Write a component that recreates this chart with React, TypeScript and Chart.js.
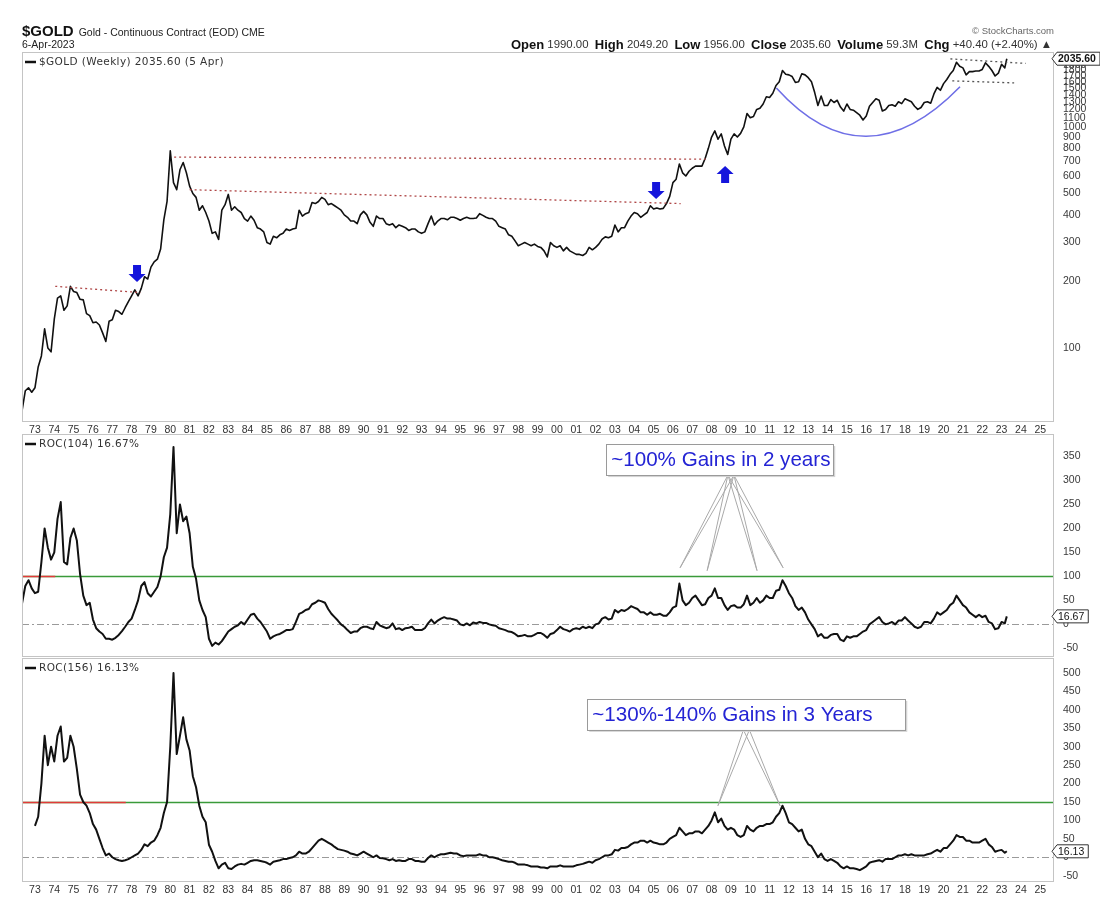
import { useEffect, useRef } from "react";
import { Chart, registerables } from "chart.js";

Chart.register(...registerables);

// ---------------- data ----------------
const T0 = 1972 + 2 / 6; // first sample (May 1972)
const STEP = 1 / 6; // two-month sampling
const LAST_T = 2023.27; // 5 Apr 2023

const YEAR_TICKS = [
  1973, 1974, 1975, 1976, 1977, 1978, 1979, 1980, 1981, 1982, 1983, 1984, 1985, 1986,
  1987, 1988, 1989, 1990, 1991, 1992, 1993, 1994, 1995, 1996, 1997, 1998, 1999, 2000,
  2001, 2002, 2003, 2004, 2005, 2006, 2007, 2008, 2009, 2010, 2011, 2012, 2013, 2014,
  2015, 2016, 2017, 2018, 2019, 2020, 2021, 2022, 2023, 2024, 2025,
];
const PRICE_TICKS = [
  100, 200, 300, 400, 500, 600, 700, 800, 900, 1000, 1100, 1200, 1300, 1400, 1500, 1600,
  1700, 1800, 1900, 2000,
];
const ROC104_TICKS = [-50, 0, 50, 100, 150, 200, 250, 300, 350];
const ROC156_TICKS = [-50, 0, 50, 100, 150, 200, 250, 300, 350, 400, 450, 500];

// weekly close of $GOLD, sampled every two months
const PRICE: number[] = [
  52, 64, 66, 63, // 1972
  66, 82, 92, 122, 100, 96, // 1973
  135, 168, 172, 148, 155, 190, // 1974
  180, 178, 166, 165, 143, 140, // 1975
  130, 131, 127, 117, 107, 132, // 1976
  134, 148, 146, 142, 152, 162, // 1977
  172, 183, 172, 186, 210, 205, // 1978
  232, 245, 252, 280, 380, 460, // 1979
  780, 560, 520, 640, 690, 620, // 1980
  540, 500, 480, 420, 440, 410, // 1981
  375, 330, 335, 310, 420, 445, // 1982
  495, 420, 435, 420, 410, 385, // 1983
  375, 395, 378, 350, 345, 335, // 1984
  300, 295, 320, 315, 325, 330, // 1985
  345, 340, 345, 348, 420, 395, // 1986
  405, 410, 455, 450, 460, 480, // 1987
  470, 445, 450, 440, 430, 420, // 1988
  400, 390, 375, 375, 365, 400, // 1989
  415, 400, 370, 355, 395, 385, // 1990
  385, 365, 360, 365, 350, 360, // 1991
  355, 350, 340, 345, 345, 335, // 1992
  330, 335, 365, 395, 360, 375, // 1993
  385, 385, 380, 390, 390, 385, // 1994
  378, 385, 390, 385, 385, 387, // 1995
  405, 398, 390, 385, 385, 375, // 1996
  355, 350, 345, 325, 320, 305, // 1997
  290, 295, 300, 295, 290, 295, // 1998
  288, 285, 275, 258, 300, 290, // 1999
  285, 290, 275, 285, 275, 270, // 2000
  265, 265, 262, 268, 285, 278, // 2001
  285, 295, 310, 318, 315, 320, // 2002
  360, 335, 350, 350, 375, 395, // 2003
  410, 405, 390, 400, 410, 440, // 2004
  425, 430, 425, 428, 450, 485, // 2005
  560, 580, 680, 620, 600, 630, // 2006
  650, 665, 665, 665, 720, 800, // 2007
  900, 960, 880, 930, 820, 750, // 2008
  880, 930, 900, 935, 1000, 1150, // 2009
  1100, 1115, 1200, 1215, 1270, 1370, // 2010
  1360, 1420, 1540, 1600, 1800, 1730, // 2011
  1720, 1690, 1590, 1600, 1740, 1720, // 2012
  1670, 1600, 1430, 1250, 1380, 1250, // 2013
  1250, 1330, 1290, 1320, 1230, 1180, // 2014
  1270, 1200, 1190, 1160, 1130, 1075, // 2015
  1120, 1240, 1290, 1340, 1320, 1180, // 2016
  1200, 1250, 1260, 1240, 1300, 1275, // 2017
  1340, 1320, 1300, 1240, 1200, 1225, // 2018
  1290, 1300, 1280, 1410, 1510, 1465, // 2019
  1570, 1640, 1730, 1800, 1960, 1880, // 2020
  1850, 1720, 1780, 1780, 1790, 1790, // 2021
  1820, 1950, 1880, 1800, 1700, 1750, // 2022
  1920, 1850, // 2023
];
const PRICE_LAST = 2035.6;

// ROC(104) in %
const ROC104: number[] = [
  44, 80, 92, 75, // 1972
  65, 68, 130, 200, 160, 135, // 1973
  150, 220, 255, 130, 125, 180, // 1974
  200, 175, 105, 60, 40, 45, // 1975
  10, -8, -15, -20, -30, -30, // 1976
  -32, -28, -22, -14, -5, 5, // 1977
  12, 30, 50, 80, 88, 65, // 1978
  58, 68, 78, 100, 140, 160, // 1979
  230, 370, 190, 250, 215, 225, // 1980
  190, 120, 95, 50, 30, 15, // 1981
  -30, -45, -38, -42, -35, -25, // 1982
  -15, -10, -5, -2, 5, 0, // 1983
  10, 20, 22, 12, 5, -5, // 1984
  -15, -30, -25, -22, -20, -16, // 1985
  -12, -12, -10, 5, 22, 25, // 1986
  30, 32, 42, 45, 50, 48, // 1987
  45, 32, 22, 15, 8, 0, // 1988
  -5, -12, -18, -15, -15, -8, // 1989
  -5, -5, -8, -10, 5, -2, // 1990
  -5, -8, -6, 2, -10, -8, // 1991
  -12, -8, -7, -5, -12, -12, // 1992
  -12, -8, 2, 10, 2, 8, // 1993
  12, 15, 12, 12, 10, 8, // 1994
  0, -2, 2, -2, 4, 2, // 1995
  5, 3, 3, 0, -2, -3, // 1996
  -8, -10, -12, -15, -16, -20, // 1997
  -25, -24, -22, -25, -25, -22, // 1998
  -18, -18, -22, -28, -20, -18, // 1999
  -12, -5, -10, -12, -15, -10, // 2000
  -8, -10, -5, -8, -5, -8, // 2001
  0, 2, 12, 15, 10, 12, // 2002
  30, 25, 30, 28, 32, 38, // 2003
  35, 32, 25, 25, 20, 25, // 2004
  20, 20, 22, 18, 18, 25, // 2005
  35, 38, 85, 50, 40, 45, // 2006
  55, 60, 50, 40, 42, 55, // 2007
  60, 75, 55, 55, 40, 30, // 2008
  38, 40, 35, 35, 42, 60, // 2009
  40, 45, 55, 45, 50, 60, // 2010
  55, 55, 70, 72, 92, 80, // 2011
  65, 55, 38, 30, 35, 25, // 2012
  10, 0, -10, -25, -20, -28, // 2013
  -28, -22, -20, -20, -32, -35, // 2014
  -25, -28, -25, -25, -20, -15, // 2015
  -12, 0, 5, 10, 15, 5, // 2016
  0, 2, 5, 0, 8, 8, // 2017
  15, 8, 2, -5, -8, -5, // 2018
  5, 5, 2, 12, 25, 20, // 2019
  25, 30, 40, 45, 60, 50, // 2020
  40, 35, 25, 20, 15, 20, // 2021
  15, 18, 5, 2, -10, -8, // 2022
  5, 2, // 2023
];
const ROC104_LAST = 16.67;

// ROC(156) in %
const ROC156: (number | null)[] = [
  null, null, null, null, // 1972
  85, 110, 200, 330, 250, 300, // 1973
  260, 330, 355, 260, 270, 330, // 1974
  300, 240, 170, 150, 140, 120, // 1975
  90, 75, 50, 25, 5, 10, // 1976
  0, -5, -8, -10, -8, -5, // 1977
  0, 5, 10, 20, 35, 30, // 1978
  40, 45, 60, 80, 120, 150, // 1979
  300, 500, 280, 330, 380, 320, // 1980
  290, 220, 190, 140, 110, 95, // 1981
  34, 15, -10, -30, -20, -15, // 1982
  -30, -32, -25, -20, -18, -20, // 1983
  -15, -10, -8, -8, -10, -12, // 1984
  -15, -20, -12, -10, -8, -5, // 1985
  -5, -2, 0, 5, 15, 10, // 1986
  10, 15, 25, 35, 45, 50, // 1987
  45, 40, 35, 28, 22, 20, // 1988
  18, 15, 10, 8, 5, 10, // 1989
  15, 10, 5, 0, 5, -2, // 1990
  -3, -5, -8, -5, -10, -8, // 1991
  -10, -10, -5, -5, -10, -10, // 1992
  -12, -12, -2, 5, 0, 5, // 1993
  8, 8, 10, 12, 10, 10, // 1994
  5, 3, 5, 5, 5, 5, // 1995
  8, 5, 5, 0, 0, -2, // 1996
  -5, -8, -10, -12, -12, -15, // 1997
  -20, -20, -20, -22, -25, -25, // 1998
  -25, -28, -28, -30, -25, -25, // 1999
  -25, -22, -25, -25, -25, -25, // 2000
  -22, -20, -18, -15, -12, -15, // 2001
  -8, -5, 0, 5, 5, 8, // 2002
  20, 18, 25, 25, 28, 35, // 2003
  40, 40, 45, 45, 40, 45, // 2004
  40, 38, 35, 35, 40, 50, // 2005
  55, 60, 80, 70, 60, 65, // 2006
  65, 70, 70, 65, 75, 85, // 2007
  100, 122, 95, 105, 85, 75, // 2008
  80, 75, 60, 55, 60, 85, // 2009
  75, 70, 80, 85, 85, 90, // 2010
  90, 95, 110, 120, 140, 120, // 2011
  95, 90, 80, 70, 75, 50, // 2012
  35, 30, 15, 0, 10, -5, // 2013
  -10, -5, -10, -15, -25, -30, // 2014
  -25, -30, -30, -32, -35, -30, // 2015
  -25, -15, -12, -10, -8, -12, // 2016
  -5, -5, -5, 0, 5, 5, // 2017
  8, 5, 8, 5, 5, 5, // 2018
  5, 8, 10, 15, 20, 15, // 2019
  25, 25, 35, 45, 60, 55, // 2020
  55, 45, 45, 40, 40, 40, // 2021
  45, 50, 35, 28, 15, 18, // 2022
  20, 12, // 2023
];
const ROC156_LAST = 16.13;

// annotations (data coordinates)
const RED_DOTTED = [
  [1974.05, 190, 1978.45, 178],
  [1980.2, 730, 2007.7, 715],
  [1981.0, 520, 2006.4, 450],
];
const BLACK_DOTTED = [
  [2020.35, 2032, 2024.25, 1938],
  [2020.45, 1616, 2023.65, 1582],
];
const ARROWS = [
  { t: 1978.28, v: 199, dir: 1 },
  { t: 2005.13, v: 472, dir: 1 },
  { t: 2008.7, v: 666, dir: -1 },
];
const ARC = { start: [2011.35, 1500], ctrl: [2015.9, 545], end: [2020.85, 1520] };

// ---------------- layout / style ----------------
const W = 1100;
const H = 920;
const PLOT_L = 22;
const AXIS_W = 47;
const X_MIN = 1972.33;
const X_MAX = 2025.66;
const FONT_SANS = '"Liberation Sans", Arial, sans-serif';
const FONT_VERD = '"DejaVu Sans", Verdana, sans-serif';
const BORDER = "#c4c4c4";

type Pt = { x: number; y: number | null };
const toPoints = (vals: (number | null)[], last: number): Pt[] =>
  vals.map((v, i) => ({ x: T0 + i * STEP, y: v })).concat([{ x: LAST_T, y: last }]);

function xAxis(show: boolean, h: number) {
  return {
    type: "linear",
    min: X_MIN,
    max: X_MAX,
    display: show,
    grid: { display: false, drawTicks: false },
    border: { display: false },
    afterBuildTicks: (s: any) => {
      s.ticks = YEAR_TICKS.map((v) => ({ value: v }));
    },
    afterFit: (s: any) => {
      s.height = h;
    },
    ticks: {
      autoSkip: false,
      maxRotation: 0,
      minRotation: 0,
      padding: 3,
      color: "#333",
      font: { family: FONT_SANS, size: 10.5 },
      callback: (v: any) => String(Number(v) % 100).padStart(2, "0"),
    },
  };
}

function yAxis(type: string, min: number, max: number, ticks: number[]) {
  return {
    type,
    position: "right",
    min,
    max,
    grid: { display: false, drawTicks: false },
    border: { display: false },
    afterBuildTicks: (s: any) => {
      s.ticks = ticks.map((v) => ({ value: v }));
    },
    afterFit: (s: any) => {
      s.width = AXIS_W;
    },
    ticks: {
      autoSkip: false,
      padding: 10,
      color: "#3a3a3a",
      font: { family: FONT_SANS, size: 10.5 },
      callback: (v: any) => String(v),
    },
  };
}

function drawBorder(ctx: CanvasRenderingContext2D, a: any) {
  ctx.save();
  ctx.strokeStyle = BORDER;
  ctx.lineWidth = 1;
  ctx.setLineDash([]);
  ctx.strokeRect(Math.round(a.left) + 0.5, Math.round(a.top) + 0.5, Math.round(a.right - a.left), Math.round(a.bottom - a.top));
  ctx.restore();
}

function drawTag(ctx: CanvasRenderingContext2D, x0: number, y: number, text: string, bold: boolean) {
  ctx.save();
  ctx.font = `${bold ? "bold " : ""}10.5px ${FONT_SANS}`;
  const tw = ctx.measureText(text).width;
  const h = 13;
  ctx.beginPath();
  ctx.moveTo(x0, y);
  ctx.lineTo(x0 + 5, y - h / 2);
  ctx.lineTo(x0 + tw + 10, y - h / 2);
  ctx.lineTo(x0 + tw + 10, y + h / 2);
  ctx.lineTo(x0 + 5, y + h / 2);
  ctx.closePath();
  ctx.fillStyle = "#fff";
  ctx.fill();
  ctx.strokeStyle = "#333";
  ctx.lineWidth = 1;
  ctx.stroke();
  ctx.fillStyle = "#111";
  ctx.textBaseline = "middle";
  ctx.textAlign = "left";
  ctx.fillText(text, x0 + 6, y + 0.5);
  ctx.restore();
}

function drawLegend(ctx: CanvasRenderingContext2D, x: number, y: number, text: string) {
  ctx.save();
  ctx.strokeStyle = "#111";
  ctx.lineWidth = 2.5;
  ctx.beginPath();
  ctx.moveTo(x, y);
  ctx.lineTo(x + 11, y);
  ctx.stroke();
  ctx.font = `10.5px ${FONT_VERD}`;
  (ctx as any).letterSpacing = "0.4px";
  ctx.fillStyle = "#333";
  ctx.textBaseline = "middle";
  ctx.fillText(text, x + 14, y + 0.5);
  ctx.restore();
}

function drawArrow(ctx: CanvasRenderingContext2D, cx: number, tipY: number, dir: number) {
  const bw = 4;
  const hw = 8.5;
  const hh = 8;
  const bh = 9;
  ctx.beginPath();
  ctx.moveTo(cx, tipY);
  ctx.lineTo(cx - hw, tipY - dir * hh);
  ctx.lineTo(cx - bw, tipY - dir * hh);
  ctx.lineTo(cx - bw, tipY - dir * (hh + bh));
  ctx.lineTo(cx + bw, tipY - dir * (hh + bh));
  ctx.lineTo(cx + bw, tipY - dir * hh);
  ctx.lineTo(cx + hw, tipY - dir * hh);
  ctx.closePath();
  ctx.fill();
}

const mainPlugin = {
  id: "mainDecor",
  afterDraw(chart: any) {
    const { ctx, chartArea: a, scales } = chart;
    const px = (t: number) => scales.x.getPixelForValue(t);
    const py = (v: number) => scales.y.getPixelForValue(v);
    ctx.save();
    drawBorder(ctx, a);

    // dotted trend lines
    ctx.lineWidth = 1.3;
    ctx.setLineDash([2, 3]);
    ctx.strokeStyle = "#b04848";
    for (const [t1, v1, t2, v2] of RED_DOTTED) {
      ctx.beginPath();
      ctx.moveTo(px(t1), py(v1));
      ctx.lineTo(px(t2), py(v2));
      ctx.stroke();
    }
    ctx.strokeStyle = "#555";
    for (const [t1, v1, t2, v2] of BLACK_DOTTED) {
      ctx.beginPath();
      ctx.moveTo(px(t1), py(v1));
      ctx.lineTo(px(t2), py(v2));
      ctx.stroke();
    }
    ctx.setLineDash([]);

    // cup arc
    ctx.strokeStyle = "#6f6fe6";
    ctx.lineWidth = 1.6;
    ctx.beginPath();
    ctx.moveTo(px(ARC.start[0]), py(ARC.start[1]));
    ctx.quadraticCurveTo(px(ARC.ctrl[0]), py(ARC.ctrl[1]), px(ARC.end[0]), py(ARC.end[1]));
    ctx.stroke();

    // arrows
    ctx.fillStyle = "#1515dc";
    for (const ar of ARROWS) drawArrow(ctx, px(ar.t), py(ar.v), ar.dir);

    // legend
    drawLegend(ctx, 25, 62, "$GOLD (Weekly) 2035.60 (5 Apr)");

    // header left
    ctx.fillStyle = "#111";
    ctx.textBaseline = "middle";
    ctx.textAlign = "left";
    ctx.font = `bold 15px ${FONT_SANS}`;
    ctx.fillText("$GOLD", 22, 32);
    const gw = ctx.measureText("$GOLD").width;
    ctx.font = `10.5px ${FONT_SANS}`;
    ctx.fillStyle = "#222";
    ctx.fillText("Gold - Continuous Contract (EOD) CME", 22 + gw + 5, 33);
    ctx.fillText("6-Apr-2023", 22, 45);

    // header right
    ctx.textAlign = "right";
    ctx.font = `9.5px ${FONT_SANS}`;
    ctx.fillStyle = "#666";
    ctx.fillText("\u00A9 StockCharts.com", 1054, 31);
    const runs: [string, boolean][] = [
      ["Open", true], [" 1990.00  ", false],
      ["High", true], [" 2049.20  ", false],
      ["Low", true], [" 1956.00  ", false],
      ["Close", true], [" 2035.60  ", false],
      ["Volume", true], [" 59.3M  ", false],
      ["Chg", true], [" +40.40 (+2.40%) \u25B2", false],
    ];
    const fb = `bold 13px ${FONT_SANS}`;
    const fn = `11.4px ${FONT_SANS}`;
    let total = 0;
    for (const [s, b] of runs) {
      ctx.font = b ? fb : fn;
      total += ctx.measureText(s).width;
    }
    let cx = 1052 - total;
    ctx.textAlign = "left";
    for (const [s, b] of runs) {
      ctx.font = b ? fb : fn;
      ctx.fillStyle = b ? "#111" : "#333";
      ctx.fillText(s, cx, 45);
      cx += ctx.measureText(s).width;
    }

    // price tag
    drawTag(ctx, a.right - 1, py(PRICE_LAST), "2035.60", true);
    ctx.restore();
  },
};

type Callout = { boxT: number; boxV: number; boxW: number; text: string; apexT: number; ends: number[][] };

function rocPlugin(opts: {
  id: string;
  level: number;
  redTo: number;
  label: string;
  last: number;
  callout: Callout;
}) {
  return {
    id: opts.id,
    beforeDatasetsDraw(chart: any) {
      const { ctx, chartArea: a, scales } = chart;
      const y0 = Math.round(scales.y.getPixelForValue(0)) + 0.5;
      const yl = Math.round(scales.y.getPixelForValue(opts.level)) + 0.5;
      ctx.save();
      ctx.lineWidth = 1;
      ctx.strokeStyle = "#9a9a9a";
      ctx.setLineDash([7, 3, 2, 3]);
      ctx.beginPath();
      ctx.moveTo(a.left, y0);
      ctx.lineTo(a.right, y0);
      ctx.stroke();
      ctx.setLineDash([]);
      ctx.lineWidth = 1.6;
      ctx.strokeStyle = "#3a9a3a";
      ctx.beginPath();
      ctx.moveTo(a.left, yl);
      ctx.lineTo(a.right, yl);
      ctx.stroke();
      ctx.strokeStyle = "#e23a3a";
      ctx.beginPath();
      ctx.moveTo(a.left, yl);
      ctx.lineTo(scales.x.getPixelForValue(opts.redTo), yl);
      ctx.stroke();
      ctx.restore();
    },
    afterDraw(chart: any) {
      const { ctx, chartArea: a, scales } = chart;
      const px = (t: number) => scales.x.getPixelForValue(t);
      const py = (v: number) => scales.y.getPixelForValue(v);
      ctx.save();
      drawBorder(ctx, a);
      drawLegend(ctx, 25, a.top + 10, opts.label);

      // callout
      const c = opts.callout;
      ctx.font = `20.6px ${FONT_SANS}`;
      const bx = px(c.boxT);
      const by = py(c.boxV);
      const bw = c.boxW;
      const bh = 31;
      const ax = px(c.apexT);
      ctx.strokeStyle = "#a9a9a9";
      ctx.lineWidth = 1;
      for (const [t, v] of c.ends) {
        const ex = px(t);
        const ey = py(v);
        ctx.beginPath();
        ctx.moveTo(ax - 3, by + bh);
        ctx.lineTo(ex, ey);
        ctx.moveTo(ax + 3, by + bh);
        ctx.lineTo(ex, ey);
        ctx.stroke();
      }
      ctx.fillStyle = "#d4d4d4";
      ctx.fillRect(bx + 2, by + 2, bw, bh);
      ctx.fillStyle = "#fff";
      ctx.fillRect(bx, by, bw, bh);
      ctx.strokeStyle = "#9a9a9a";
      ctx.strokeRect(Math.round(bx) + 0.5, Math.round(by) + 0.5, bw, bh);
      ctx.fillStyle = "#2424d4";
      ctx.textBaseline = "middle";
      ctx.fillText(c.text, bx + 5, by + bh / 2 + 1);

      drawTag(ctx, a.right - 1, py(opts.last), opts.last.toFixed(2), false);
      ctx.restore();
    },
  };
}

function lineDataset(points: Pt[], width: number) {
  return {
    data: points,
    borderColor: "#111",
    borderWidth: width,
    pointRadius: 0,
    tension: 0,
    spanGaps: false,
    borderJoinStyle: "round",
  };
}

function baseOptions(padTop: number, padBottom: number, scales: any) {
  return {
    responsive: false,
    maintainAspectRatio: false,
    animation: false,
    devicePixelRatio: 1,
    events: [],
    layout: { padding: { left: PLOT_L, right: 0, top: padTop, bottom: padBottom } },
    plugins: { legend: { display: false }, tooltip: { enabled: false } },
    scales,
  };
}

export default function App() {
  const r1 = useRef<HTMLCanvasElement>(null);
  const r2 = useRef<HTMLCanvasElement>(null);
  const r3 = useRef<HTMLCanvasElement>(null);

  useEffect(() => {
    const main = new Chart(r1.current as HTMLCanvasElement, {
      type: "line",
      data: { datasets: [lineDataset(toPoints(PRICE, PRICE_LAST), 1.6) as any] },
      options: baseOptions(52, H - 421 - 17, {
        x: xAxis(true, 17),
        y: yAxis("logarithmic", 46.7, 2183, PRICE_TICKS),
      }) as any,
      plugins: [mainPlugin],
    });
    const roc1 = new Chart(r2.current as HTMLCanvasElement, {
      type: "line",
      data: { datasets: [lineDataset(toPoints(ROC104, ROC104_LAST), 2) as any] },
      options: baseOptions(434, H - 656, {
        x: xAxis(false, 0),
        y: yAxis("linear", -66, 397, ROC104_TICKS),
      }) as any,
      plugins: [
        rocPlugin({
          id: "roc104",
          level: 100,
          redTo: 1974.05,
          label: "ROC(104) 16.67%",
          last: ROC104_LAST,
          callout: {
            boxT: 2002.55,
            boxV: 376,
            boxW: 227,
            text: "~100% Gains in 2 years",
            apexT: 2009.0,
            ends: [
              [2006.37, 118],
              [2007.77, 112],
              [2010.35, 112],
              [2011.7, 118],
            ],
          },
        }),
      ],
    });
    const roc2 = new Chart(r3.current as HTMLCanvasElement, {
      type: "line",
      data: { datasets: [lineDataset(toPoints(ROC156, ROC156_LAST), 2) as any] },
      options: baseOptions(658, H - 881 - 18, {
        x: xAxis(true, 18),
        y: yAxis("linear", -64.5, 541, ROC156_TICKS),
      }) as any,
      plugins: [
        rocPlugin({
          id: "roc156",
          level: 150,
          redTo: 1977.7,
          label: "ROC(156) 16.13%",
          last: ROC156_LAST,
          callout: {
            boxT: 2001.57,
            boxV: 430,
            boxW: 318,
            text: "~130%-140% Gains in 3 Years",
            apexT: 2009.8,
            ends: [
              [2008.33, 140],
              [2011.54, 140],
            ],
          },
        }),
      ],
    });
    return () => {
      main.destroy();
      roc1.destroy();
      roc2.destroy();
    };
  }, []);

  const cs = { position: "absolute", left: 0, top: 0, width: W, height: H } as const;
  return (
    <div style={{ position: "absolute", left: 0, top: 0, width: W, height: H, background: "#fff" }}>
      <canvas ref={r1} width={W} height={H} style={cs} />
      <canvas ref={r2} width={W} height={H} style={cs} />
      <canvas ref={r3} width={W} height={H} style={cs} />
    </div>
  );
}
